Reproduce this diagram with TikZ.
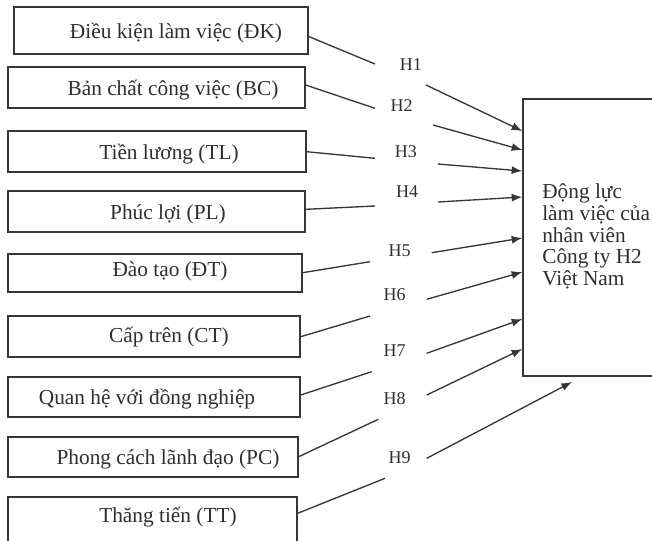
\documentclass[tikz,border=0pt]{standalone}
\usepackage{fontspec}
\setmainfont{Liberation Serif}
\usepackage{xcolor}
\usetikzlibrary{arrows.meta}
\definecolor{inkline}{HTML}{363636}
\definecolor{inktext}{HTML}{2E2E2E}
\tikzset{
  factor/.style={rectangle,draw=inkline,line width=1pt,inner sep=0pt},
  ftext/.style={anchor=base,text=inktext,font=\fontsize{16}{19}\selectfont,inner sep=0pt},
  hyp/.style={anchor=base,text=inktext,font=\fontsize{13.5}{16}\selectfont,inner sep=0pt},
  link/.style={inkline,line width=1pt},
  harr/.style={link,-{Latex[length=8pt,width=6pt]}},
}

\begin{document}
\begin{tikzpicture}[x=0.75pt,y=-0.75pt]
  \useasboundingbox (0,0) rectangle (652,540);
  \clip (0,0) rectangle (652,540);
  % factor boxes: name/centre x/centre y/width/height/text x/baseline/text
  \foreach \n/\cx/\cy/\w/\h/\tx/\ty/\t in {
      dk/161/30.5/294/47/176/38/{Điều kiện làm việc (ĐK)},
      bc/156.5/87.5/297/41/173/95/{Bản chất công việc (BC)},
      tl/157/151.5/298/41/169/159/{Tiền lương (TL)},
      pl/156.5/211.5/297/41/168/219/{Phúc lợi (PL)},
      dt/155/273/294/38/170/276/{Đào tạo (ĐT)},
      ct/154/336.5/292/41/169/342/{Cấp trên (CT)},
      qh/154/397/292/40/147/404/{Quan hệ với đồng nghiệp},
      pc/153/457/290/40/168/464/{Phong cách lãnh đạo (PC)},
      tt/152.5/522/289/50/168/522/{Thăng tiến (TT)}}
  {
    \node[factor,minimum width=\w*0.75pt,minimum height=\h*0.75pt] (\n) at (\cx,\cy) {};
    \node[ftext] (\n-t) at (\tx,\ty) {\t};
  }
  % outcome box, cut by the right edge
  \node[factor,minimum width=177*0.75pt,minimum height=277*0.75pt] (dl) at (611.5,237.5) {};
  \node[anchor=north west,align=left,inner sep=0pt,text=inktext,
        font=\fontsize{16}{16.3}\selectfont] (dl-t) at (542,183.5)
       {Động lực\\làm việc của\\nhân viên\\Công ty H2\\Việt Nam};
  % hypothesis labels and the free ends of the connectors
  \foreach \i/\hx/\hy/\ax/\ay/\bx/\by in {
      1/410.8/70/375/64/426/85,
      2/401.7/111.7/375/108.3/433/125,
      3/405.8/157.3/375/158.3/438/164,
      4/407/197.3/375/206/438/202,
      5/399.5/256/370/261.7/431.7/252.7,
      6/394.7/300.7/370/316/426.7/299.3,
      7/394.7/356/371.7/371.7/426.7/353.3,
      8/394.7/404/378.3/419.3/426.7/395,
      9/399.7/463.3/385/478.3/426.7/458.3}
  {
    \node[hyp] (h\i) at (\hx,\hy) {H\i};
    \coordinate (a\i) at (\ax,\ay);
    \coordinate (b\i) at (\bx,\by);
  }
  % factor -> label
  \foreach \n/\i/\sy in {dk/1/36.5,bc/2/85,tl/3/151.7,pl/4/209.3,dt/5/272.7,
                         ct/6/336.7,qh/7/395,pc/8/456.7,tt/9/513.3}
    \draw[link] (\n.east |- 0,\sy) -- (a\i);
  % label -> outcome
  \foreach \i/\ey in {1/131,2/150,3/171,4/197,5/238,6/272,7/319,8/349}
    \draw[harr] (b\i) -- (dl.west |- 0,\ey);
  \coordinate (e9) at (572,382);
  \draw[harr] (b9) -- (e9);
\end{tikzpicture}
\end{document}
